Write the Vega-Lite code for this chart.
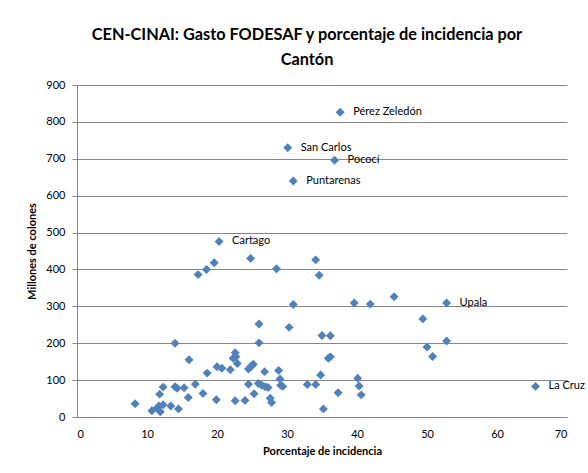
{
  "$schema": "https://vega.github.io/schema/vega-lite/v6.json",
  "width": 490,
  "height": 332,
  "autosize": "none",
  "padding": {"left": 77, "top": 85, "right": 21, "bottom": 56},
  "background": "white",
  "title": {
    "text": ["CEN-CINAI: Gasto FODESAF y porcentaje de incidencia por", "Cantón"],
    "font": "Lato",
    "fontSize": 16.3,
    "fontWeight": "bold",
    "color": "#000000",
    "anchor": "middle",
    "dx": -15,
    "offset": 11,
    "lineHeight": 25
  },
  "data": {
    "values": [
      {"pct": 37.6, "gasto": 826, "canton": "Pérez Zeledón"},
      {"pct": 30.1, "gasto": 730, "canton": "San Carlos"},
      {"pct": 36.8, "gasto": 696, "canton": "Pococí"},
      {"pct": 30.9, "gasto": 640, "canton": "Puntarenas"},
      {"pct": 20.3, "gasto": 476, "canton": "Cartago"},
      {"pct": 52.8, "gasto": 309, "canton": "Upala"},
      {"pct": 65.5, "gasto": 83, "canton": "La Cruz"},
      {"pct": 24.8, "gasto": 430, "canton": ""},
      {"pct": 17.3, "gasto": 386, "canton": ""},
      {"pct": 18.5, "gasto": 400, "canton": ""},
      {"pct": 19.6, "gasto": 418, "canton": ""},
      {"pct": 28.5, "gasto": 402, "canton": ""},
      {"pct": 34.1, "gasto": 426, "canton": ""},
      {"pct": 34.6, "gasto": 384, "canton": ""},
      {"pct": 30.9, "gasto": 305, "canton": ""},
      {"pct": 30.3, "gasto": 243, "canton": ""},
      {"pct": 26.0, "gasto": 252, "canton": ""},
      {"pct": 26.0, "gasto": 201, "canton": ""},
      {"pct": 39.6, "gasto": 309, "canton": ""},
      {"pct": 41.9, "gasto": 306, "canton": ""},
      {"pct": 45.3, "gasto": 326, "canton": ""},
      {"pct": 49.4, "gasto": 266, "canton": ""},
      {"pct": 52.8, "gasto": 206, "canton": ""},
      {"pct": 50.0, "gasto": 190, "canton": ""},
      {"pct": 50.8, "gasto": 164, "canton": ""},
      {"pct": 35.0, "gasto": 221, "canton": ""},
      {"pct": 36.2, "gasto": 220, "canton": ""},
      {"pct": 35.9, "gasto": 159, "canton": ""},
      {"pct": 36.2, "gasto": 163, "canton": ""},
      {"pct": 34.8, "gasto": 114, "canton": ""},
      {"pct": 32.9, "gasto": 88, "canton": ""},
      {"pct": 34.1, "gasto": 88, "canton": ""},
      {"pct": 37.3, "gasto": 66, "canton": ""},
      {"pct": 35.2, "gasto": 22, "canton": ""},
      {"pct": 40.1, "gasto": 105, "canton": ""},
      {"pct": 40.3, "gasto": 84, "canton": ""},
      {"pct": 40.6, "gasto": 60, "canton": ""},
      {"pct": 14.0, "gasto": 200, "canton": ""},
      {"pct": 16.0, "gasto": 155, "canton": ""},
      {"pct": 22.6, "gasto": 174, "canton": ""},
      {"pct": 22.7, "gasto": 163, "canton": ""},
      {"pct": 22.3, "gasto": 159, "canton": ""},
      {"pct": 22.9, "gasto": 145, "canton": ""},
      {"pct": 20.0, "gasto": 136, "canton": ""},
      {"pct": 20.7, "gasto": 132, "canton": ""},
      {"pct": 21.9, "gasto": 128, "canton": ""},
      {"pct": 18.6, "gasto": 119, "canton": ""},
      {"pct": 24.5, "gasto": 130, "canton": ""},
      {"pct": 24.9, "gasto": 138, "canton": ""},
      {"pct": 25.2, "gasto": 143, "canton": ""},
      {"pct": 26.8, "gasto": 123, "canton": ""},
      {"pct": 28.8, "gasto": 126, "canton": ""},
      {"pct": 29.0, "gasto": 103, "canton": ""},
      {"pct": 14.0, "gasto": 82, "canton": ""},
      {"pct": 14.3, "gasto": 78, "canton": ""},
      {"pct": 15.3, "gasto": 79, "canton": ""},
      {"pct": 16.9, "gasto": 89, "canton": ""},
      {"pct": 12.3, "gasto": 81, "canton": ""},
      {"pct": 11.8, "gasto": 62, "canton": ""},
      {"pct": 15.9, "gasto": 53, "canton": ""},
      {"pct": 18.0, "gasto": 64, "canton": ""},
      {"pct": 19.9, "gasto": 47, "canton": ""},
      {"pct": 8.3, "gasto": 36, "canton": ""},
      {"pct": 10.7, "gasto": 17, "canton": ""},
      {"pct": 11.4, "gasto": 24, "canton": ""},
      {"pct": 11.7, "gasto": 30, "canton": ""},
      {"pct": 11.9, "gasto": 14, "canton": ""},
      {"pct": 12.3, "gasto": 33, "canton": ""},
      {"pct": 13.4, "gasto": 30, "canton": ""},
      {"pct": 14.5, "gasto": 22, "canton": ""},
      {"pct": 22.6, "gasto": 44, "canton": ""},
      {"pct": 24.0, "gasto": 45, "canton": ""},
      {"pct": 24.5, "gasto": 89, "canton": ""},
      {"pct": 25.3, "gasto": 63, "canton": ""},
      {"pct": 25.9, "gasto": 91, "canton": ""},
      {"pct": 26.4, "gasto": 86, "canton": ""},
      {"pct": 26.9, "gasto": 82, "canton": ""},
      {"pct": 27.3, "gasto": 80, "canton": ""},
      {"pct": 27.6, "gasto": 51, "canton": ""},
      {"pct": 27.8, "gasto": 39, "canton": ""},
      {"pct": 29.1, "gasto": 86, "canton": ""},
      {"pct": 29.4, "gasto": 83, "canton": ""}
    ]
  },
  "encoding": {
    "x": {
      "field": "pct",
      "type": "quantitative",
      "scale": {"domain": [0, 70], "nice": false},
      "axis": {
        "title": "Porcentaje de incidencia",
        "values": [0, 10, 20, 30, 40, 50, 60, 70],
        "grid": false,
        "ticks": false,
        "labelPadding": 11,
        "titlePadding": 6
      }
    },
    "y": {
      "field": "gasto",
      "type": "quantitative",
      "scale": {"domain": [0, 900], "nice": false},
      "axis": {
        "title": "Millones de colones",
        "values": [0, 100, 200, 300, 400, 500, 600, 700, 800, 900],
        "grid": true,
        "ticks": true,
        "tickSize": 5,
        "labelPadding": 7,
        "titlePadding": 8
      }
    }
  },
  "layer": [
    {
      "mark": {"type": "point", "shape": "diamond", "filled": true, "size": 80, "color": "#4F81BD", "opacity": 1}
    },
    {
      "transform": [{"filter": "datum.canton != ''"}],
      "mark": {"type": "text", "align": "left", "baseline": "middle", "dx": 13, "font": "Lato", "fontSize": 11, "color": "#000000"},
      "encoding": {"text": {"field": "canton"}}
    }
  ],
  "config": {
    "view": {"stroke": null},
    "axis": {
      "labelFont": "Lato",
      "labelFontSize": 11,
      "labelColor": "#000000",
      "titleFont": "Lato",
      "titleFontSize": 11,
      "titleFontWeight": "bold",
      "titleColor": "#000000",
      "domainColor": "#868686",
      "tickColor": "#868686",
      "gridColor": "#868686",
      "gridWidth": 1,
      "domainWidth": 1
    }
  }
}
